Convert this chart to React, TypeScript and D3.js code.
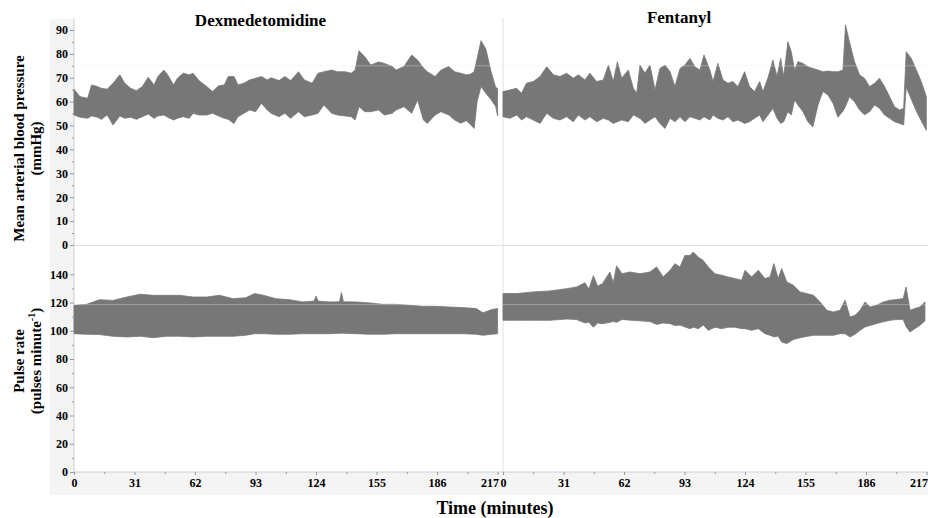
import React, { useEffect, useRef } from 'react';
import * as d3 from 'd3';

// Dexmedetomidine - mean arterial blood pressure envelope (mmHg)
const dexMapTime = [0, 3, 7, 9, 12, 14, 17, 20, 23.5, 26, 29, 32, 35, 38, 41, 43, 46, 48, 51, 53, 56, 59, 61, 64, 68, 71, 74, 77, 79, 82, 84, 87, 90, 93, 96, 99, 101, 105, 108, 111, 115, 118, 122, 125, 128, 132, 135, 139, 142, 144, 146, 149, 152, 156, 159, 163, 165, 169, 173, 176, 179, 181, 185, 188, 192, 195, 198, 201, 203, 205, 206.5, 208.5, 211, 213.5, 216, 217];
const dexMapHigh = [65.2, 62.1, 61.4, 67.0, 66.3, 65.6, 65.2, 67.7, 71.2, 67.7, 65.6, 64.6, 66.3, 70.2, 67.0, 70.5, 73.2, 71.2, 67.0, 69.8, 71.9, 71.2, 71.9, 68.8, 66.3, 64.2, 66.6, 67.0, 70.5, 70.5, 67.0, 67.7, 69.1, 69.8, 70.5, 69.1, 70.0, 68.8, 70.5, 68.8, 72.5, 69.1, 67.7, 71.9, 72.5, 73.2, 72.5, 72.5, 71.9, 73.2, 81.3, 78.8, 75.3, 76.6, 76.0, 74.7, 73.2, 74.7, 79.5, 77.4, 74.1, 72.5, 70.5, 73.2, 74.7, 72.5, 71.9, 71.2, 71.5, 72.5, 78.0, 85.5, 82.0, 73.0, 66.0, 65.5];
const dexMapLow = [54.4, 53.5, 53.0, 54.0, 53.5, 52.6, 54.4, 50.2, 54.0, 53.0, 53.5, 52.6, 53.7, 54.8, 53.0, 54.0, 54.4, 53.5, 52.3, 53.0, 53.7, 53.0, 55.1, 54.4, 54.4, 55.1, 54.0, 53.0, 52.6, 50.9, 53.7, 55.1, 56.5, 55.8, 59.3, 56.5, 55.1, 53.7, 55.1, 53.0, 55.8, 53.7, 54.4, 55.1, 58.6, 55.1, 54.4, 54.0, 53.7, 52.3, 57.9, 55.8, 55.8, 56.5, 54.4, 55.1, 56.5, 57.9, 55.1, 60.7, 52.3, 50.9, 54.4, 55.8, 54.4, 52.3, 51.0, 52.0, 50.5, 48.8, 60.0, 66.3, 63.5, 61.0, 58.0, 54.0];

// Fentanyl - mean arterial blood pressure envelope (mmHg)
const fenMapTime = [0, 3.5, 7, 9.5, 12, 15.5, 19, 22.4, 25.8, 29.2, 32.6, 36, 38.6, 42, 44.5, 48, 51.4, 54, 56.5, 58.6, 60.8, 64.2, 66.8, 68.5, 70.2, 72.7, 75.3, 77.9, 80.4, 83, 85.6, 88.1, 90.7, 93.2, 95.8, 98.3, 100.9, 103, 106, 107.6, 110.1, 112.7, 115.3, 117.8, 120.4, 123.8, 126.3, 128.9, 131.5, 133.2, 135.8, 138.3, 140.4, 142.3, 143.8, 146, 147.7, 149.4, 151.1, 153.7, 156.2, 158.8, 161.4, 163.9, 166.5, 169.1, 171.6, 174.2, 175.5, 177.5, 180.1, 182.7, 185.2, 187.8, 190.4, 192.9, 195.5, 198.1, 200.6, 203.2, 205.3, 206.6, 209.2, 211.8, 214.3, 216.9];
const fenMapHigh = [64.2, 64.9, 65.6, 63.5, 67.7, 68.4, 70.5, 74.6, 71.2, 70.5, 71.9, 69.8, 71.2, 69.1, 71.9, 68.4, 69.1, 75.3, 68.4, 76.7, 69.8, 73.2, 65.6, 63.5, 75.3, 71.9, 75.3, 64.9, 73.9, 75.3, 72.5, 66.3, 73.9, 75.3, 78.1, 74.6, 73.2, 79.5, 73.2, 68.4, 76.0, 69.1, 67.7, 68.4, 66.3, 72.5, 66.3, 64.2, 68.4, 64.2, 70.0, 77.4, 70.5, 78.1, 70.5, 85.1, 80.9, 73.2, 76.7, 76.0, 74.6, 73.9, 73.2, 72.5, 72.8, 72.5, 72.5, 73.2, 92.1, 85.1, 76.7, 71.2, 69.8, 66.3, 67.7, 69.8, 66.3, 62.1, 57.9, 56.5, 57.2, 80.9, 78.1, 73.2, 68.4, 62.1];
const fenMapLow = [53.7, 53.0, 54.4, 52.3, 53.7, 52.3, 50.9, 55.1, 53.0, 52.3, 53.7, 51.6, 54.4, 52.3, 53.7, 51.6, 53.0, 52.3, 50.9, 51.6, 52.3, 51.6, 54.4, 53.7, 53.0, 50.9, 52.3, 53.7, 50.9, 48.8, 53.0, 51.6, 53.7, 51.6, 53.7, 53.0, 52.3, 53.7, 52.3, 54.4, 53.0, 52.3, 53.7, 51.6, 52.3, 50.9, 51.6, 53.0, 54.4, 51.6, 54.4, 57.2, 53.0, 50.9, 51.6, 55.8, 54.4, 60.7, 58.6, 55.8, 51.6, 49.5, 58.6, 64.2, 62.8, 59.3, 53.5, 56.0, 58.0, 62.0, 60.0, 56.5, 54.5, 55.8, 58.6, 57.2, 54.4, 53.0, 51.6, 50.9, 50.2, 66.0, 61.0, 56.0, 52.0, 48.0];

// Dexmedetomidine - pulse rate envelope (pulses/min)
const dexPulseTime = [0, 6.5, 13, 20, 27, 34, 40.5, 47.5, 54, 61, 68, 74.5, 81.5, 88, 92.5, 97, 103.5, 110.5, 117, 123, 124, 125, 131, 136, 137, 138, 144.5, 151.5, 158, 165, 172, 179, 185.5, 192.5, 199, 206, 209.5, 214, 217];
const dexPulseHigh = [118.0, 118.7, 122.0, 121.5, 123.9, 125.8, 125.1, 125.1, 125.1, 123.9, 123.9, 125.1, 122.7, 123.4, 126.3, 125.1, 122.7, 122.0, 120.4, 121.0, 124.5, 121.0, 120.4, 120.5, 127.0, 120.5, 120.4, 119.7, 118.7, 118.7, 118.0, 117.3, 117.3, 116.8, 116.4, 115.7, 112.7, 115.0, 115.7];
const dexPulseLow = [97.9, 97.5, 97.3, 96.1, 95.6, 96.1, 95.1, 96.1, 96.1, 95.6, 96.1, 96.1, 96.1, 96.8, 97.9, 97.9, 97.5, 97.5, 97.9, 97.9, 97.9, 97.9, 97.9, 98.2, 98.2, 98.2, 97.9, 97.5, 97.5, 97.9, 97.9, 97.9, 97.9, 97.9, 97.9, 97.5, 96.8, 97.5, 97.9];

// Fentanyl - pulse rate envelope (pulses/min)
const fenPulseTime = [0, 7, 15.5, 24, 32.6, 37.7, 42, 44, 46.3, 48.5, 51, 54.8, 56.5, 58.2, 61, 65, 70.2, 75.3, 78.7, 82.1, 85.6, 88.1, 90.7, 93.2, 95.8, 97.5, 100.1, 102.6, 105.2, 108.6, 112, 115.4, 118.8, 122.3, 124, 127.4, 130.8, 134.2, 136.8, 138.8, 141, 142.8, 145.4, 148.8, 152.2, 155.6, 159.1, 162.5, 165.9, 169.3, 172.7, 175.3, 177.8, 180.4, 183, 185.5, 188.1, 191.5, 194.9, 198.3, 201.7, 205.1, 206.5, 208.6, 211, 213.6, 216.2];
const fenPulseHigh = [126.4, 126.3, 127.5, 128.2, 129.8, 131.0, 134.0, 129.5, 139.0, 131.5, 133.5, 141.6, 134.0, 146.0, 140.4, 141.6, 140.4, 141.6, 145.2, 138.1, 142.8, 147.5, 145.2, 153.3, 153.3, 155.7, 152.1, 149.8, 145.2, 140.4, 139.3, 138.1, 137.0, 135.8, 142.8, 138.1, 142.8, 137.0, 138.1, 147.5, 137.0, 144.0, 134.6, 132.2, 127.5, 126.3, 125.1, 120.4, 114.5, 113.3, 114.5, 121.6, 109.7, 111.0, 114.5, 120.4, 116.9, 118.1, 120.4, 121.6, 122.1, 122.8, 131.0, 114.5, 115.7, 116.9, 120.4];
const fenPulseLow = [107.4, 107.4, 107.4, 107.4, 108.3, 107.9, 105.5, 106.0, 102.5, 105.5, 105.0, 106.0, 106.5, 106.0, 108.0, 107.5, 107.0, 106.5, 104.5, 105.5, 105.0, 103.8, 104.0, 102.7, 101.5, 102.5, 101.5, 104.0, 100.3, 102.5, 101.5, 102.5, 102.5, 101.5, 101.5, 100.3, 101.5, 97.9, 96.8, 95.6, 96.2, 92.0, 90.9, 93.8, 95.0, 96.0, 96.8, 96.8, 96.8, 96.8, 97.9, 97.9, 95.6, 97.5, 100.3, 102.7, 103.8, 105.1, 106.3, 107.4, 107.9, 107.9, 103.0, 99.1, 101.5, 103.8, 107.0];

const groups = ['Dexmedetomidine', 'Fentanyl'];
const timeTicks = [0, 31, 62, 93, 124, 155, 186, 217];
const mapTicks = [0, 10, 20, 30, 40, 50, 60, 70, 80, 90];
const pulseTicks = [0, 20, 40, 60, 80, 100, 120, 140];
const mapRef = 75;
const pulseRef = 118.5;

const App = () => {
  const svgRef = useRef<SVGSVGElement>(null);

  useEffect(() => {
    if (!svgRef.current) return;
    const svg = d3.select(svgRef.current);
    svg.selectAll('*').remove();

    const font = "'Liberation Serif', 'Times New Roman', serif";
    const bandColor = '#777777';

    // scales: one x per treatment panel, one y per measure row
    const xScales = [
      d3.scaleLinear().domain([0, 217]).range([74, 497.6]),
      d3.scaleLinear().domain([0, 217]).range([503, 926.5]),
    ];
    const yMap = d3.scaleLinear().domain([0, 95]).range([245, 18]);
    const yPulse = d3.scaleLinear().domain([0, 160]).range([472, 246]);

    // light axis backgrounds
    svg.append('rect').attr('x', 50).attr('y', 19).attr('width', 24).attr('height', 476).attr('fill', '#f4f4f4');
    svg.append('rect').attr('x', 50).attr('y', 472).attr('width', 878).attr('height', 23).attr('fill', '#f4f4f4');

    // frame lines
    svg.append('line').attr('x1', 74).attr('x2', 74).attr('y1', 18).attr('y2', 472).attr('stroke', '#cfcfcf');
    svg.append('line').attr('x1', 74).attr('x2', 928).attr('y1', 472).attr('y2', 472).attr('stroke', '#cfcfcf');
    svg.append('line').attr('x1', 74).attr('x2', 928).attr('y1', 245.5).attr('y2', 245.5).attr('stroke', '#e2e2e2');
    svg.append('line').attr('x1', 503).attr('x2', 503).attr('y1', 18).attr('y2', 472).attr('stroke', '#e2e2e2');

    const series = [
      { x: xScales[0], y: yMap, t: dexMapTime, hi: dexMapHigh, lo: dexMapLow },
      { x: xScales[1], y: yMap, t: fenMapTime, hi: fenMapHigh, lo: fenMapLow },
      { x: xScales[0], y: yPulse, t: dexPulseTime, hi: dexPulseHigh, lo: dexPulseLow },
      { x: xScales[1], y: yPulse, t: fenPulseTime, hi: fenPulseHigh, lo: fenPulseLow },
    ];

    series.forEach(s => {
      const idx = d3.range(s.t.length);
      const area = d3.area<number>()
        .x(i => s.x(s.t[i]))
        .y0(i => s.y(s.lo[i]))
        .y1(i => s.y(s.hi[i]))
        .curve(d3.curveLinear);
      svg.append('path')
        .attr('d', area(idx))
        .attr('fill', bandColor)
        .attr('stroke', bandColor)
        .attr('stroke-width', 0.8);
    });

    // faint reference lines
    [[yMap, mapRef], [yPulse, pulseRef]].forEach(([sc, v]: any) => {
      svg.append('line')
        .attr('x1', 74).attr('x2', 928)
        .attr('y1', sc(v)).attr('y2', sc(v))
        .attr('stroke', '#e8e8e8')
        .attr('stroke-opacity', 0.35);
    });

    // y axes
    const styleAxis = (g: any) => {
      g.select('.domain').remove();
      g.selectAll('line').attr('stroke', '#9a9a9a');
      g.selectAll('text')
        .attr('font-family', font)
        .attr('font-weight', 'bold')
        .attr('font-size', 12)
        .attr('fill', '#000');
    };

    [[yMap, mapTicks, 5], [yPulse, pulseTicks, 10]].forEach(([sc, ticks, step]: any) => {
      const minor = d3.range(step, d3.max(ticks) as number + step, step * 2);
      svg.append('g')
        .attr('transform', 'translate(74,0)')
        .call(d3.axisLeft(sc).tickValues(minor).tickSize(2).tickFormat(() => ''))
        .call(styleAxis);
      svg.append('g')
        .attr('transform', 'translate(74,0)')
        .call(d3.axisLeft(sc).tickValues(ticks).tickSize(4).tickPadding(2).tickFormat(d3.format('d')))
        .call(styleAxis);
    });

    // x axes
    xScales.forEach(sc => {
      const minor = d3.range(15.5, 217, 31);
      svg.append('g')
        .attr('transform', 'translate(0,472)')
        .call(d3.axisBottom(sc).tickValues(minor).tickSize(2).tickFormat(() => ''))
        .call(styleAxis);
      const g = svg.append('g')
        .attr('transform', 'translate(0,472)')
        .call(d3.axisBottom(sc).tickValues(timeTicks).tickSize(3).tickPadding(3).tickFormat(d3.format('d')))
        .call(styleAxis);
      g.selectAll('text')
        .filter((d: any) => d === 217)
        .attr('text-anchor', 'end')
        .attr('dx', 1);
    });

    // panel titles
    svg.append('text').attr('x', 260.5).attr('y', 26)
      .attr('text-anchor', 'middle').attr('font-family', font).attr('font-weight', 'bold').attr('font-size', 17)
      .text(groups[0]);
    svg.append('text').attr('x', 679).attr('y', 23)
      .attr('text-anchor', 'middle').attr('font-family', font).attr('font-weight', 'bold').attr('font-size', 17)
      .text(groups[1]);

    // y titles
    const yTitle = (x: number, y: number) => svg.append('text')
      .attr('transform', `translate(${x},${y}) rotate(-90)`)
      .attr('text-anchor', 'middle')
      .attr('font-family', font).attr('font-weight', 'bold').attr('font-size', 15);

    yTitle(24, 148.5).text('Mean arterial blood pressure');
    yTitle(41, 148.5).text('(mmHg)');
    yTitle(24, 361).text('Pulse rate');
    const pl = yTitle(41, 361);
    pl.append('tspan').text('(pulses minute');
    pl.append('tspan').attr('dy', -6).attr('font-size', 10).text('-1');
    pl.append('tspan').attr('dy', 6).text(')');

    // x title
    svg.append('text').attr('x', 495).attr('y', 514)
      .attr('text-anchor', 'middle').attr('font-family', font).attr('font-weight', 'bold').attr('font-size', 18)
      .text('Time (minutes)');
  }, []);

  return (
    <div style={{ position: 'absolute', left: 0, top: 0, width: 928, height: 518, background: '#fff' }}>
      <svg ref={svgRef} width={928} height={518} style={{ display: 'block' }} />
    </div>
  );
};

export default App;
